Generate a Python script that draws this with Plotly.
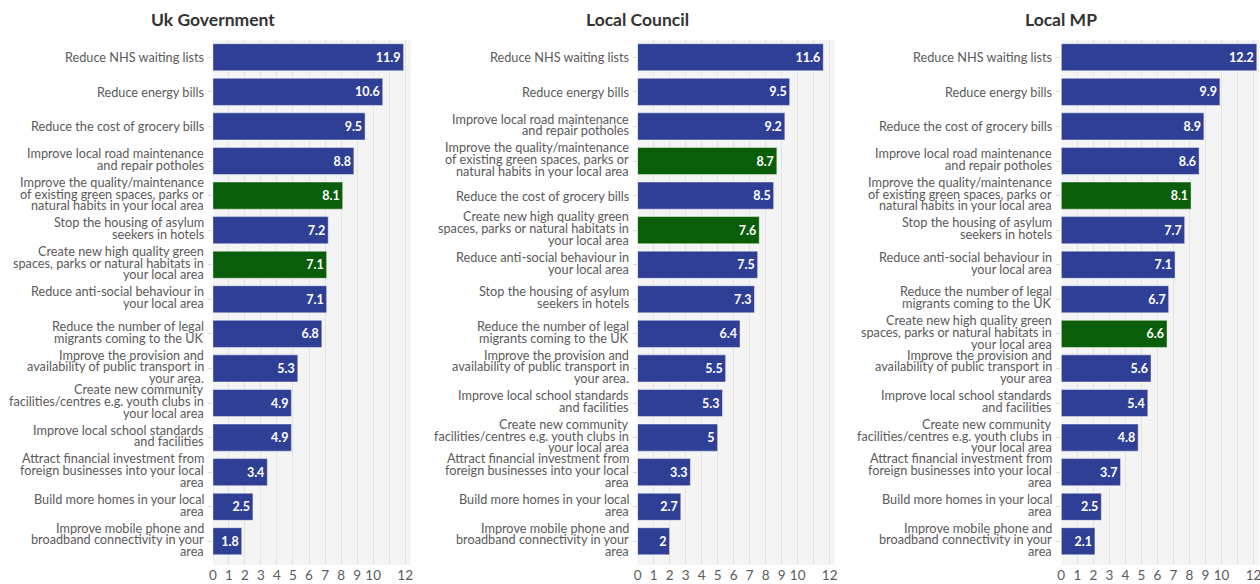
import plotly.graph_objects as go

# ---------------- data ----------------
panel_titles = ["Uk Government", "Local Council", "Local MP"]

uk_labels = [
    "Reduce NHS waiting lists",
    "Reduce energy bills",
    "Reduce the cost of grocery bills",
    "Improve local road maintenance<br>and repair potholes",
    "Improve the quality/maintenance<br>of existing green spaces, parks or<br>natural habits in your local area",
    "Stop the housing of asylum<br>seekers in hotels",
    "Create new high quality green<br>spaces, parks or natural habitats in<br>your local area",
    "Reduce anti-social behaviour in<br>your local area",
    "Reduce the number of legal<br>migrants coming to the UK",
    "Improve the provision and<br>availability of public transport in<br>your area.",
    "Create new community<br>facilities/centres e.g. youth clubs in<br>your local area",
    "Improve local school standards<br>and facilities",
    "Attract financial investment from<br>foreign businesses into your local<br>area",
    "Build more homes in your local<br>area",
    "Improve mobile phone and<br>broadband connectivity in your<br>area",
]
uk_values = [11.9, 10.6, 9.5, 8.8, 8.1, 7.2, 7.1, 7.1, 6.8, 5.3, 4.9, 4.9, 3.4, 2.5, 1.8]

council_labels = [
    "Reduce NHS waiting lists",
    "Reduce energy bills",
    "Improve local road maintenance<br>and repair potholes",
    "Improve the quality/maintenance<br>of existing green spaces, parks or<br>natural habits in your local area",
    "Reduce the cost of grocery bills",
    "Create new high quality green<br>spaces, parks or natural habitats in<br>your local area",
    "Reduce anti-social behaviour in<br>your local area",
    "Stop the housing of asylum<br>seekers in hotels",
    "Reduce the number of legal<br>migrants coming to the UK",
    "Improve the provision and<br>availability of public transport in<br>your area.",
    "Improve local school standards<br>and facilities",
    "Create new community<br>facilities/centres e.g. youth clubs in<br>your local area",
    "Attract financial investment from<br>foreign businesses into your local<br>area",
    "Build more homes in your local<br>area",
    "Improve mobile phone and<br>broadband connectivity in your<br>area",
]
council_values = [11.6, 9.5, 9.2, 8.7, 8.5, 7.6, 7.5, 7.3, 6.4, 5.5, 5.3, 5, 3.3, 2.7, 2]

mp_labels = [
    "Reduce NHS waiting lists",
    "Reduce energy bills",
    "Reduce the cost of grocery bills",
    "Improve local road maintenance<br>and repair potholes",
    "Improve the quality/maintenance<br>of existing green spaces, parks or<br>natural habits in your local area",
    "Stop the housing of asylum<br>seekers in hotels",
    "Reduce anti-social behaviour in<br>your local area",
    "Reduce the number of legal<br>migrants coming to the UK",
    "Create new high quality green<br>spaces, parks or natural habitats in<br>your local area",
    "Improve the provision and<br>availability of public transport in<br>your area",
    "Improve local school standards<br>and facilities",
    "Create new community<br>facilities/centres e.g. youth clubs in<br>your local area",
    "Attract financial investment from<br>foreign businesses into your local<br>area",
    "Build more homes in your local<br>area",
    "Improve mobile phone and<br>broadband connectivity in your<br>area",
]
mp_values = [12.2, 9.9, 8.9, 8.6, 8.1, 7.7, 7.1, 6.7, 6.6, 5.6, 5.4, 4.8, 3.7, 2.5, 2.1]

green_items = {
    "Improve the quality/maintenance of existing green spaces, parks or natural habits in your local area",
    "Create new high quality green spaces, parks or natural habitats in your local area",
}

x_tickvals = [0, 1, 2, 3, 4, 5, 6, 7, 8, 9, 10, 11, 12]
x_ticktext = ["0", "1", "2", "3", "4", "5", "6", "7", "8", "9", "10", "", "12"]

# ---------------- style ----------------
W, H = 1300, 584   # wider than the window: right panel is cut at the window edge like the reference
BLUE = "#2f3f95"
GREEN = "#0a5e0a"
FONT = "Lato"
LABEL_COLOR = "#5a5a5a"
LINE_H = 11.7

panels = [
    (uk_labels, uk_values, (210, 409), 12.35),
    (council_labels, council_values, (637, 835), 12.3),
    (mp_labels, mp_values, (1063, 1262), 12.35),
]

fig = go.Figure()
annotations = []

for i, (labels, values, (x0, x1), xmax) in enumerate(panels):
    n = i + 1
    xa = "x" if n == 1 else f"x{n}"
    ya = "y" if n == 1 else f"y{n}"
    cats = [lab.replace("<br>", " ") for lab in labels]
    colors = [GREEN if c in green_items else BLUE for c in cats]
    fig.add_trace(go.Bar(
        x=values, y=cats, orientation="h",
        marker=dict(color=colors, line=dict(color="rgba(255,255,255,0.45)", width=1)),
        text=[f"{v:g}" for v in values],
        textposition="inside", insidetextanchor="end",
        textfont=dict(family=FONT, size=12.5, color="white", weight="bold"),
        xaxis=xa, yaxis=ya, showlegend=False, hoverinfo="x+y",
    ))
    axkey = "xaxis" if n == 1 else f"xaxis{n}"
    aykey = "yaxis" if n == 1 else f"yaxis{n}"
    fig.update_layout(**{
        axkey: dict(
            domain=[x0 / W, x1 / W], range=[0, xmax], anchor=ya,
            tickvals=x_tickvals, ticktext=x_ticktext,
            showgrid=True, gridcolor="#e3e3e3", gridwidth=1,
            zeroline=False, showline=False, ticks="",
            ticklabeloverflow="allow",
            tickfont=dict(family=FONT, size=13.5, color=LABEL_COLOR),
            fixedrange=True,
        ),
        aykey: dict(
            domain=[0, 1], anchor=xa, type="category",
            categoryorder="array", categoryarray=cats,
            autorange="reversed", showticklabels=False,
            ticks="outside", ticklen=4, tickcolor="#d6d6d6",
            showgrid=False, zeroline=False, showline=False,
            fixedrange=True,
        ),
    })
    # category labels, one annotation per line for tight line spacing
    for lab, cat in zip(labels, cats):
        lines = lab.split("<br>")
        k = len(lines)
        for j, line in enumerate(lines):
            offset = ((k - 1) / 2 - j) * LINE_H + (2 if k > 1 else 0)
            annotations.append(dict(
                text=line, x=0, xref=f"{xa} domain", xanchor="right", xshift=-7,
                y=cat, yref=ya, yanchor="middle", yshift=offset,
                showarrow=False,
                font=dict(family=FONT, size=12.7, color=LABEL_COLOR),
            ))
    # panel title
    annotations.append(dict(
        text=f"<b>{panel_titles[i]}</b>", x=x0 / W, xref="paper", xanchor="center",
        y=1, yref="paper", yanchor="bottom", yshift=8, showarrow=False,
        font=dict(family=FONT, size=17.5, color="#333333"),
    ))

fig.update_layout(
    width=W, height=H,
    margin=dict(l=0, r=0, t=40, b=19),
    paper_bgcolor="white", plot_bgcolor="#f4f4f4",
    bargap=0.215,
    annotations=annotations,
    font=dict(family=FONT),
)

fig.write_html(
    "out.html",
    config={"displayModeBar": False},
    post_script="document.body.style.margin='0px';document.body.style.overflow='hidden';",
)
